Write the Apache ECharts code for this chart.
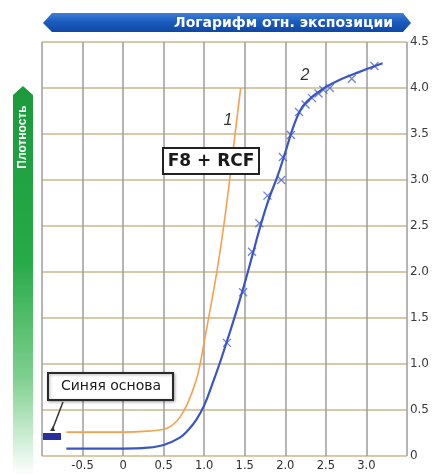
<!DOCTYPE html>
<html>
<head>
<meta charset="utf-8">
<script src="https://cdn.jsdelivr.net/npm/echarts@6/dist/echarts.min.js"></script>
<style>
  html, body { margin: 0; padding: 0; background: #fff; }
  #chart { width: 432px; height: 475px; }
</style>
</head>
<body>
<div id="chart"></div>
<script>
// Characteristic curves: density vs. log relative exposure
const curve1 = [ // F8 + RCF, curve 1 (orange)
  [-0.7, 0.26], [0, 0.26], [0.3, 0.27], [0.5, 0.29], [0.6, 0.33], [0.7, 0.42],
  [0.8, 0.58], [0.9, 0.82], [0.95, 1.0], [1.0, 1.24], [1.05, 1.48], [1.1, 1.72],
  [1.15, 1.97], [1.2, 2.25], [1.25, 2.56], [1.3, 2.9], [1.35, 3.27], [1.4, 3.64], [1.45, 4.0]
];
const curve2 = [ // curve 2 (blue)
  [-0.7, 0.08], [0, 0.08], [0.3, 0.09], [0.5, 0.12], [0.7, 0.2], [0.8, 0.28],
  [0.9, 0.39], [1.0, 0.55], [1.1, 0.78], [1.2, 1.03], [1.3, 1.3], [1.4, 1.58],
  [1.5, 1.88], [1.6, 2.2], [1.7, 2.52], [1.8, 2.8], [1.9, 3.03], [2.0, 3.3],
  [2.1, 3.58], [2.2, 3.78], [2.3, 3.88], [2.4, 3.95], [2.5, 4.01], [2.7, 4.1],
  [2.9, 4.17], [3.2, 4.27]
];
const measured2 = [ // measured points on curve 2
  [1.28, 1.23], [1.48, 1.78], [1.59, 2.22], [1.68, 2.53], [1.78, 2.83], [1.95, 3.0],
  [1.97, 3.25], [2.07, 3.49], [2.17, 3.74], [2.25, 3.82], [2.33, 3.89], [2.41, 3.94],
  [2.47, 3.98], [2.55, 4.0], [2.82, 4.1], [3.1, 4.24]
];
const xTitle = 'Логарифм отн. экспозиции';
const yTitle = 'Плотность';
const baseLabel = 'Синяя основа';
const filmLabel = 'F8 + RCF';

const chart = echarts.init(document.getElementById('chart'), null, { renderer: 'canvas' });
const FONT = '"Liberation Sans", Arial, sans-serif';
const WIDE = '"DejaVu Sans", Verdana, sans-serif';

chart.setOption({
  animation: false,
  backgroundColor: '#ffffff',
  grid: { left: 42, right: 22, top: 42, bottom: 19 },
  xAxis: {
    type: 'value', min: -1, max: 3.5, interval: 0.5,
    axisLine: { show: false }, axisTick: { show: false },
    splitLine: { show: true, lineStyle: { color: '#9c9c9c', width: 1.5 } },
    axisLabel: {
      margin: 4, color: '#2e2e2e', fontSize: 11.5, fontFamily: WIDE,
      formatter: v => (v <= -1 || v >= 3.5) ? '' : (v === 0 ? '0' : v.toFixed(1))
    }
  },
  yAxis: {
    type: 'value', position: 'right', min: 0, max: 4.5, interval: 0.5,
    axisLine: { show: false }, axisTick: { show: false },
    splitLine: { show: true, lineStyle: { color: '#c9b98c', width: 1.5 } },
    axisLabel: {
      margin: 3, color: '#3a3a3a', fontSize: 12, fontFamily: WIDE,
      formatter: v => v === 0 ? '0' : v.toFixed(1)
    }
  },
  series: [
    {
      name: '1', type: 'line', data: curve1, smooth: 0.4, showSymbol: false,
      lineStyle: { color: '#f5a04e', width: 1.6 }
    },
    {
      name: '2', type: 'line', data: curve2, smooth: 0.4, showSymbol: false,
      lineStyle: { color: '#3a55c4', width: 2.2 }
    },
    {
      name: '2 points', type: 'scatter', data: measured2,
      symbol: 'path://M0,0L10,10M10,0L0,10', symbolSize: 8,
      itemStyle: { color: 'rgba(0,0,0,0)', borderColor: '#4a64cc', borderWidth: 1.3 }
    }
  ],
  graphic: [
    // top banner
    {
      type: 'polygon', z: 10,
      shape: { points: [[43, 23], [52, 13], [403, 13], [411, 23], [403, 32], [52, 32]] },
      style: {
        fill: new echarts.graphic.LinearGradient(0, 0, 0, 1, [
          { offset: 0, color: '#3f80d8' }, { offset: 0.45, color: '#1b5cc0' }, { offset: 1, color: '#0f48a2' }
        ])
      }
    },
    {
      type: 'text', z: 11, x: 393, y: 23,
      style: {
        text: xTitle, fill: '#ffffff', font: 'bold 14px ' + WIDE,
        textAlign: 'right', textVerticalAlign: 'middle'
      }
    },
    // left arrow
    {
      type: 'polygon', z: 10,
      shape: { points: [[13, 95], [23, 86], [33, 95], [33, 475], [13, 475]] },
      style: {
        fill: new echarts.graphic.LinearGradient(0, 0, 0, 1, [
          { offset: 0, color: '#1c9a3c' }, { offset: 0.45, color: '#27aa47' },
          { offset: 0.75, color: '#7fd08f' }, { offset: 1, color: '#ffffff' }
        ])
      }
    },
    {
      type: 'text', z: 11, x: 23, y: 137, rotation: Math.PI / 2,
      style: {
        text: yTitle, fill: '#ffffff', font: 'bold 12px ' + FONT,
        textAlign: 'center', textVerticalAlign: 'middle'
      }
    },
    // curve numbers
    {
      type: 'text', z: 11, x: 228, y: 121,
      style: { text: '1', fill: '#333333', font: 'italic 16px ' + FONT, textAlign: 'center', textVerticalAlign: 'middle' }
    },
    {
      type: 'text', z: 11, x: 305, y: 76,
      style: { text: '2', fill: '#333333', font: 'italic 16px ' + FONT, textAlign: 'center', textVerticalAlign: 'middle' }
    },
    // film label
    {
      type: 'rect', z: 11,
      shape: { x: 163, y: 148, width: 96, height: 26 },
      style: { fill: '#ffffff', stroke: '#222222', lineWidth: 2 }
    },
    {
      type: 'text', z: 12, x: 211, y: 161.5,
      style: { text: filmLabel, fill: '#1a1a1a', font: 'bold 17px ' + WIDE, textAlign: 'center', textVerticalAlign: 'middle' }
    },
    // base label
    {
      type: 'rect', z: 11,
      shape: { x: 48, y: 373, width: 125, height: 27 },
      style: { fill: '#ffffff', stroke: '#2a2a2a', lineWidth: 2, shadowBlur: 3, shadowColor: 'rgba(0,0,0,0.3)', shadowOffsetX: 1, shadowOffsetY: 1 }
    },
    {
      type: 'text', z: 12, x: 111, y: 386.5,
      style: { text: baseLabel, fill: '#1a1a1a', font: '14px ' + WIDE, textAlign: 'center', textVerticalAlign: 'middle' }
    },
    {
      type: 'line', z: 11,
      shape: { x1: 63, y1: 402, x2: 53, y2: 428 },
      style: { stroke: '#333333', lineWidth: 1.5 }
    },
    {
      type: 'polygon', z: 11,
      shape: { points: [[50, 431], [53, 426], [55, 431]] },
      style: { fill: '#333333' }
    },
    {
      type: 'rect', z: 11,
      shape: { x: 43, y: 433, width: 18, height: 7 },
      style: { fill: '#2b2f9c' }
    }
  ]
});
</script>
</body>
</html>
